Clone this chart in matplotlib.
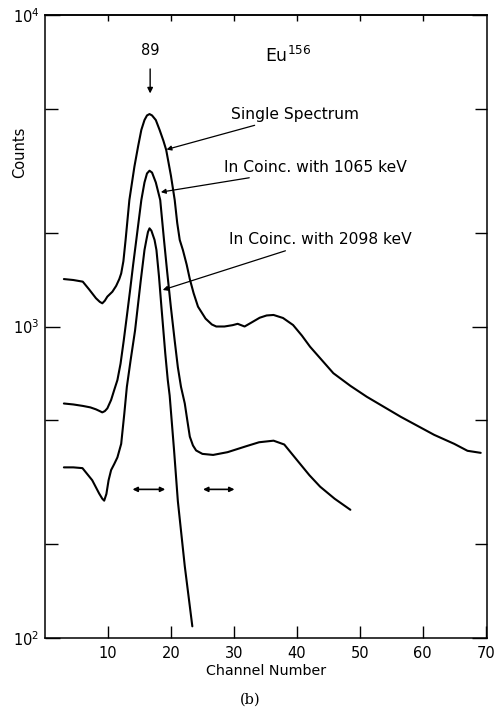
import matplotlib
matplotlib.use("Agg")
import matplotlib.pyplot as plt
from matplotlib.ticker import FixedLocator, NullFormatter

# ---- data ----
single_x = [3.0, 4.5, 6.0, 7.0, 8.1, 8.7, 9.1, 9.5, 9.9, 10.7, 11.3, 11.8, 12.1, 12.45, 12.8,
            13.4, 14.2, 14.8, 15.3, 15.8, 16.2, 16.6, 17.0, 17.6, 18.2, 18.8, 19.25, 20.0,
            20.6, 21.0, 21.4, 21.9, 22.5, 23.0, 23.6, 24.3, 25.5, 26.5, 27.2, 28.5, 29.8,
            30.6, 31.7, 32.8, 34.1, 35.2, 36.3, 37.8, 39.4, 40.8, 42.1, 45.8, 48.5, 51.1,
            56.5, 61.8, 65.0, 67.1, 69.2]
single_y = [1420, 1410, 1393, 1316, 1232, 1200, 1187, 1210, 1247, 1293, 1350, 1420, 1480, 1620, 1896,
            2547, 3260, 3800, 4277, 4600, 4760, 4808, 4760, 4600, 4277, 3950, 3687, 3050,
            2547, 2150, 1896, 1760, 1580, 1420, 1280, 1158, 1060, 1015, 1000, 1000, 1010,
            1020, 1000, 1030, 1067, 1085, 1089, 1065, 1011, 935, 861, 708, 645, 595,
            513, 449, 420, 399, 393]

c1065_x = [3.0, 4.5, 6.0, 7.2, 8.1, 8.7, 9.1, 9.5, 9.9, 10.5, 11.0, 11.5, 12.0, 12.5, 13.0,
           13.5, 14.0, 14.5, 15.3, 15.8, 16.2, 16.6, 17.0, 17.6, 18.3, 18.9, 19.4, 20.0,
           20.6, 21.1, 21.6, 22.2, 22.6, 23.0, 23.5, 24.0, 25.0, 26.7, 29.0, 32.0, 34.0,
           36.3, 38.0, 40.0, 42.0, 43.7, 46.0, 48.5]
c1065_y = [566, 562, 556, 550, 542, 535, 530, 535, 546, 581, 626, 673, 760, 900, 1080,
           1300, 1580, 1896, 2547, 2900, 3100, 3163, 3120, 2900, 2547, 1896, 1500, 1150,
           900, 740, 640, 566, 500, 443, 415, 400, 390, 387, 395, 413, 425,
           430, 418, 373, 333, 306, 280, 258]

c2098_x = [3.0, 4.5, 5.95, 7.5, 8.6, 9.1, 9.4, 9.75, 10.1, 10.5, 11.0, 11.5, 12.1, 12.6,
           13.0, 13.6, 14.3, 15.2, 15.8, 16.1, 16.35, 16.6, 16.9, 17.4, 17.7, 18.1,
           18.5, 19.1, 19.5, 19.8, 20.5, 21.1, 22.2, 23.4]
c2098_y = [353, 353, 351, 321, 291, 280, 276, 290, 321, 346, 362, 380, 420, 526,
           640, 780, 970, 1400, 1760, 1896, 2010, 2066, 2030, 1896, 1760, 1450,
           1150, 820, 673, 600, 400, 275, 170, 109]

xticks = [10, 20, 30, 40, 50, 60, 70]
xtick_labels = ["10", "20", "30", "40", "50", "60", "70"]
ymajor = [100, 1000, 10000]
ymajor_labels = [r"$10^2$", r"$10^3$", r"$10^4$"]
yminor = [200, 500, 2000, 5000]

fig = plt.figure(figsize=(4.95, 7.08), dpi=100)
ax = fig.add_axes([45/495, 1-638/708, (487-45)/495, (638-15)/708])
ax.set_yscale("log")
ax.set_xlim(0, 70.2)
ax.set_ylim(100, 10000)

lw = 1.5
for xs, ys in [(single_x, single_y), (c1065_x, c1065_y), (c2098_x, c2098_y)]:
    ax.plot(xs, ys, color="black", lw=lw, solid_capstyle="round", solid_joinstyle="round")

for s in ax.spines.values():
    s.set_linewidth(1.1)

ax.xaxis.set_major_locator(FixedLocator(xticks))
ax.set_xticklabels(xtick_labels, fontsize=10.5)
ax.yaxis.set_major_locator(FixedLocator(ymajor))
ax.set_yticklabels(ymajor_labels, fontsize=10.5)
ax.yaxis.set_minor_locator(FixedLocator(yminor))
ax.yaxis.set_minor_formatter(NullFormatter())
ax.xaxis.set_minor_locator(FixedLocator([]))

ax.tick_params(axis="x", which="major", direction="in", length=9, width=1.0, top=False, pad=6)
ax.tick_params(axis="y", which="major", direction="in", length=11, width=1.0, right=True, pad=4)
ax.tick_params(axis="y", which="minor", direction="in", length=9, width=1.0, right=True)
# top ticks (short)
sec = ax.secondary_xaxis("top")
sec.xaxis.set_major_locator(FixedLocator([10, 20, 30, 40, 50, 60]))
sec.tick_params(direction="in", length=4, width=1.0, labeltop=False)
sec.spines["top"].set_linewidth(1.1)

ax.set_xlabel("Channel Number", fontsize=10.3, labelpad=2)
fig.text(20/495, 1-152/708, "Counts", rotation=90, ha="center", va="center", fontsize=10.5)
fig.text(250/495, 1-700/708, "(b)", ha="center", va="center", fontsize=10.5, family="DejaVu Serif")

# annotations
ax.text(0.55, 0.935, r"Eu$^{156}$", transform=ax.transAxes, ha="center", va="center", fontsize=12.5)
ax.annotate("89", xy=(16.7, 5600), xytext=(16.7, 7700), ha="center", va="center", fontsize=10.5,
            arrowprops=dict(arrowstyle="-|>", color="black", lw=1.0, shrinkA=6, shrinkB=0,
                            mutation_scale=8))
arrow_kw = dict(arrowstyle="-|>", color="black", lw=0.9, shrinkA=2, shrinkB=0, mutation_scale=7)
ax.annotate("Single Spectrum", xy=(19.3, 3700), xytext=(29.5, 4800), ha="left", va="center",
            fontsize=11.2, arrowprops=arrow_kw)
ax.annotate("In Coinc. with 1065 keV", xy=(18.4, 2700), xytext=(28.4, 3250), ha="left", va="center",
            fontsize=11.2, arrowprops=arrow_kw)
ax.annotate("In Coinc. with 2098 keV", xy=(18.7, 1310), xytext=(29.2, 1900), ha="left", va="center",
            fontsize=11.2, arrowprops=arrow_kw)

# double-headed arrows
dbl = dict(arrowstyle="<|-|>", color="black", lw=1.2, mutation_scale=7, shrinkA=0, shrinkB=0)
ax.annotate("", xy=(13.9, 300), xytext=(19.1, 300), arrowprops=dbl)
ax.annotate("", xy=(25.1, 300), xytext=(30.1, 300), arrowprops=dbl)

fig.savefig("out.png", dpi=100)
